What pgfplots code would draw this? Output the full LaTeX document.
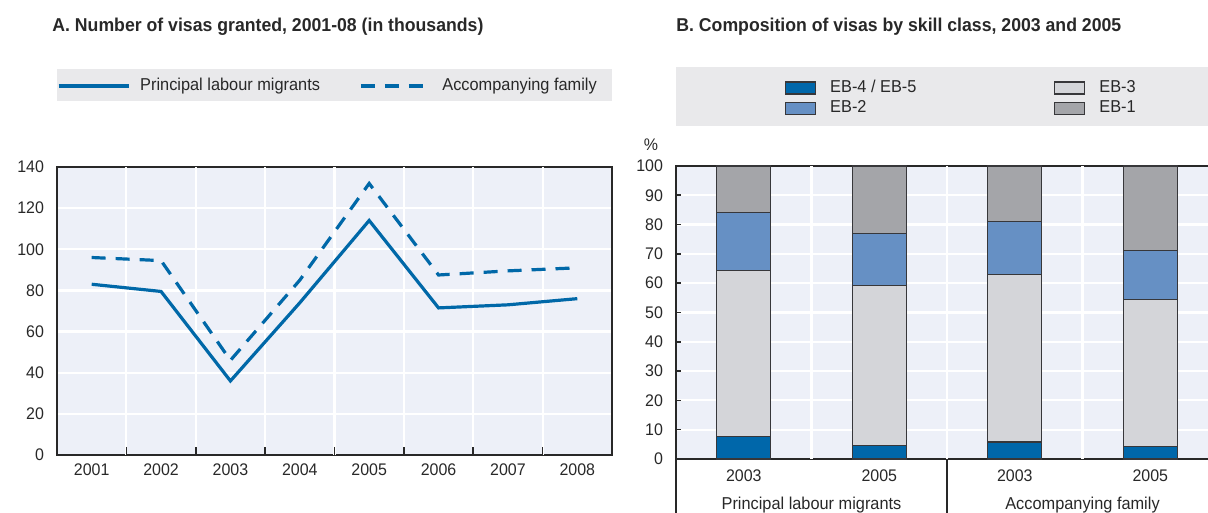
\documentclass[border=0pt]{standalone}
\usepackage{fontspec}
\setmainfont{Liberation Sans}[FakeStretch=0.95]
\usepackage{pgfplots}
\pgfplotsset{compat=1.18}
\definecolor{plotbg}{RGB}{237,240,248}
\definecolor{legendbg}{RGB}{233,233,235}
\definecolor{lineblue}{RGB}{0,104,168}
\definecolor{ebfour}{RGB}{0,103,170}
\definecolor{ebtwo}{RGB}{102,144,196}
\definecolor{ebthree}{RGB}{212,213,217}
\definecolor{ebone}{RGB}{164,165,169}
\definecolor{axisdark}{RGB}{40,40,40}
\definecolor{bardraw}{RGB}{55,55,58}
\begin{document}
\begin{tikzpicture}
\useasboundingbox (0,0) rectangle (604pt,256.5pt);
\fill[legendbg] (28.5pt,206pt) rectangle (306pt,222pt);
\fill[legendbg] (338pt,193.5pt) rectangle (610pt,223pt);
\node[anchor=base west, inner sep=0pt, font=\fontsize{9.3}{11}\selectfont\bfseries, text=axisdark] at (26pt,240.5pt) {A. Number of visas granted, 2001-08 (in thousands)};
\node[anchor=base west, inner sep=0pt, font=\fontsize{9.3}{11}\selectfont\bfseries, text=axisdark] at (338pt,240.5pt) {B. Composition of visas by skill class, 2003 and 2005};
\node[font=\fontsize{8.4}{10}\selectfont, text=axisdark] at (325.5pt,184pt) {\%};

\begin{axis}[
  at={(28.5pt,29pt)}, anchor=south west, scale only axis,
  width=277.5pt, height=144pt,
  xmin=2000.5, xmax=2008.5, ymin=0, ymax=140,
  axis background/.style={fill=plotbg},
  axis line style={draw=axisdark, line width=0.8pt},
  ytick={0,20,...,140}, ymajorgrids,
  major grid style={white, line width=1.1pt},
  ytick style={draw=none},
  xtick={2001,2002,2003,2004,2005,2006,2007,2008},
  xticklabels={2001,2002,2003,2004,2005,2006,2007,2008},
  xtick style={draw=none},
  extra x ticks={2001.5,2002.5,2003.5,2004.5,2005.5,2006.5,2007.5},
  extra x tick labels={},
  extra x tick style={grid=major, xtick style={draw=axisdark, line width=0.8pt}, major tick length=4pt},
  xtick pos=bottom, ytick pos=left,
  tick label style={font=\fontsize{8.4}{10}\selectfont, text=axisdark},
  yticklabel style={xshift=-3pt},
  xticklabel style={yshift=-1pt},
  /pgf/number format/assume math mode=true,
  legend columns=2, legend cell align=left,
  legend style={at={(0,1.281)}, anchor=west, draw=none, fill=none, inner sep=0pt, outer sep=0pt,
    nodes={inner sep=0pt}, font=\fontsize{8.6}{10}\selectfont, text=axisdark,
    /tikz/every odd column/.append style={column sep=5pt},
    /tikz/every even column/.append style={column sep=0pt}},
  legend image code/.code={\draw[#1] (0pt,0pt) -- (35pt,0pt);},
]
\addplot[lineblue, line width=1.6pt] coordinates {
  (2001,83) (2002,79.5) (2003,36) (2004,74) (2005,114) (2006,71.5) (2007,73) (2008,76)};
\addlegendentry{\makebox[109.5pt][l]{Principal labour migrants}}
\addplot[lineblue, line width=1.6pt, dash pattern=on 7pt off 5pt] coordinates {
  (2001,96) (2002,94.5) (2003,46) (2004,85) (2005,132) (2006,87.5) (2007,89.5) (2008,91)};
\addlegendentry{Accompanying family}
\end{axis}

\begin{axis}[
  at={(338pt,27pt)}, anchor=south west, scale only axis,
  width=271pt, height=146.5pt,
  xmin=-0.5, xmax=3.5, ymin=0, ymax=100,
  ybar stacked, bar width=27pt,
  axis background/.style={fill=plotbg},
  axis line style={draw=axisdark, line width=0.8pt},
  ytick={0,10,...,100}, ymajorgrids,
  major grid style={white, line width=1.1pt},
  ytick style={draw=axisdark, line width=0.8pt}, major tick length=2.5pt,
  xtick={0,1,2,3}, xticklabels={2003,2005,2003,2005},
  xtick style={draw=none},
  extra x ticks={0.5,1.5,2.5}, extra x tick labels={},
  extra x tick style={grid=major, xtick style={draw=none}},
  xtick pos=bottom, ytick pos=left,
  tick label style={font=\fontsize{8.4}{10}\selectfont, text=axisdark},
  yticklabel style={xshift=-3pt},
  xticklabel style={yshift=-2pt},
  /pgf/number format/assume math mode=true,
  clip=false,
  legend columns=2, legend cell align=left,
  legend style={at={(0.2011,1.232)}, anchor=west, draw=none, fill=none, inner sep=0pt, outer sep=0pt,
    nodes={inner sep=0pt}, font=\fontsize{8.6}{10}\selectfont, text=axisdark,
    /tikz/every odd column/.append style={column sep=7pt},
    /tikz/every even column/.append style={column sep=0pt},
    /tikz/row sep=2.5pt},
  legend image code/.code={\draw[#1, line width=0.6pt] (0pt,-3pt) rectangle (15pt,3pt);},
]
\addplot[fill=ebfour, draw=bardraw, line width=0.6pt] coordinates {(0,7.8) (1,4.5) (2,5.8) (3,4.2)};
\addlegendentry{\makebox[112pt][l]{EB-4 / EB-5}}
\addplot[fill=ebthree, draw=bardraw, line width=0.6pt] coordinates {(0,56.5) (1,54.7) (2,57.2) (3,50.1)};
\addlegendentry{EB-3}
\addplot[fill=ebtwo, draw=bardraw, line width=0.6pt] coordinates {(0,19.9) (1,17.8) (2,18) (3,16.9)};
\addlegendentry{EB-2}
\addplot[fill=ebone, draw=bardraw, line width=0.6pt] coordinates {(0,15.8) (1,23) (2,19) (3,28.8)};
\addlegendentry{EB-1}
\draw[axisdark, line width=0.8pt] (axis cs:-0.5,0) -- ++(0pt,-27pt);
\draw[axisdark, line width=0.8pt] (axis cs:1.5,0) -- ++(0pt,-27pt);
\node[font=\fontsize{8.6}{10}\selectfont, text=axisdark] at ([yshift=-23pt]axis cs:0.5,0) {Principal labour migrants};
\node[font=\fontsize{8.6}{10}\selectfont, text=axisdark] at ([yshift=-23pt]axis cs:2.5,0) {Accompanying family};
\end{axis}
\end{tikzpicture}
\end{document}
